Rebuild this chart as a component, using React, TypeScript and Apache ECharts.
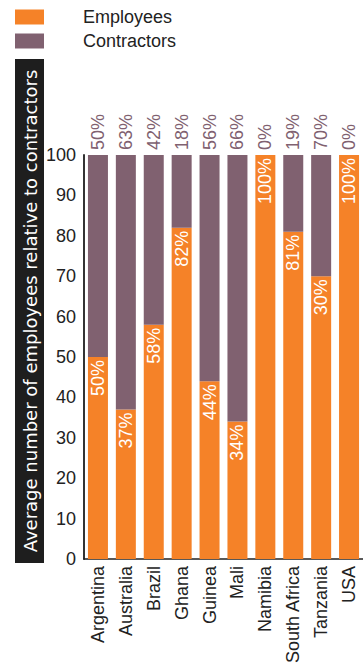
import React, { useEffect, useRef } from "react";
import * as echarts from "echarts";

const categories = ["Argentina", "Australia", "Brazil", "Ghana", "Guinea", "Mali", "Namibia", "South Africa", "Tanzania", "USA"];
const employees = [50, 37, 58, 82, 44, 34, 100, 81, 70, 100];
const contractors = [50, 63, 42, 18, 56, 66, 0, 19, 30, 0];
const employeeLabels = ["50%", "37%", "58%", "82%", "44%", "34%", "100%", "81%", "30%", "100%"];
const contractorLabels = ["50%", "63%", "42%", "18%", "56%", "66%", "0%", "19%", "70%", "0%"];
const yTicks = [0, 10, 20, 30, 40, 50, 60, 70, 80, 90, 100];
const seriesNames = ["Employees", "Contractors"];
const yTitle = "Average number of employees relative to contractors";

const ORANGE = "#f58228";
const PURPLE = "#806170";
const FONT = "Liberation Sans";

export default function App() {
  const ref = useRef<HTMLDivElement>(null);
  useEffect(() => {
    const chart = echarts.init(ref.current!, undefined, { renderer: "svg" });
    const legendBase = {
      orient: "vertical",
      left: 15,
      itemWidth: 29,
      itemHeight: 15,
      icon: "rect",
      padding: 0,
      textStyle: { fontSize: 18, color: "#222", fontFamily: FONT, padding: [0, 0, 0, 34] },
    };
    chart.setOption({
      animation: false,
      textStyle: { fontFamily: FONT },
      legend: [
        { ...legendBase, top: 8, data: [seriesNames[0]] },
        { ...legendBase, top: 32, data: [seriesNames[1]] },
      ],
      grid: { left: 84, right: 0, top: 155, bottom: 104, containLabel: false },
      xAxis: {
        type: "category",
        data: categories,
        axisLine: { show: true, lineStyle: { color: "#222", width: 1.5 } },
        axisTick: { show: false },
        axisLabel: { rotate: 90, fontSize: 18, color: "#222", margin: 7, fontFamily: FONT, interval: 0 },
      },
      yAxis: {
        type: "value",
        min: yTicks[0],
        max: yTicks[yTicks.length - 1],
        interval: 10,
        axisLine: { show: true, lineStyle: { color: "#333", width: 2 } },
        axisTick: { show: false },
        splitLine: { show: false },
        axisLabel: { fontSize: 18, color: "#222", margin: 8, fontFamily: FONT },
      },
      graphic: [
        { type: "rect", shape: { x: 15, y: 59, width: 29, height: 504 }, style: { fill: "#1e1e1e" } },
        {
          type: "text",
          x: 30,
          y: 311,
          rotation: Math.PI / 2,
          style: {
            text: yTitle,
            fill: "#fff",
            fontSize: 18,
            fontFamily: "DejaVu Sans",
            textAlign: "center",
            textVerticalAlign: "middle",
          },
        },
      ],
      series: [
        {
          name: seriesNames[0],
          type: "bar",
          stack: "s",
          data: employees,
          barWidth: 20,
          itemStyle: { color: ORANGE },
          label: {
            show: true,
            position: "insideTop",
            rotate: 90,
            align: "right",
            verticalAlign: "middle",
            distance: 3,
            color: "#fff",
            fontSize: 18,
            fontFamily: FONT,
            formatter: (p: any) => employeeLabels[p.dataIndex],
          },
        },
        {
          name: seriesNames[1],
          type: "bar",
          stack: "s",
          data: contractors,
          barWidth: 20,
          itemStyle: { color: PURPLE },
          label: {
            show: true,
            position: "top",
            rotate: 90,
            align: "left",
            verticalAlign: "middle",
            distance: 5,
            color: PURPLE,
            fontSize: 18,
            fontFamily: FONT,
            formatter: (p: any) => contractorLabels[p.dataIndex],
          },
        },
      ],
    });
    return () => chart.dispose();
  }, []);
  return <div ref={ref} style={{ width: 363, height: 667, position: "absolute", left: 0, top: 0 }} />;
}
